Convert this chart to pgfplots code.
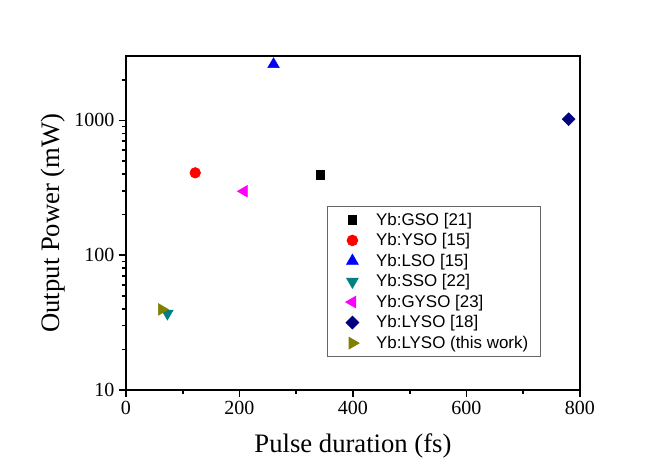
\documentclass[border=0pt]{standalone}
\usepackage{pgfplots}
\pgfplotsset{compat=1.18}
\usepackage{fontspec}
\setmainfont{Liberation Serif}
\newfontfamily\legendfont{Liberation Sans}
\definecolor{cteal}{RGB}{0,128,128}
\definecolor{cnavy}{RGB}{0,0,128}
\definecolor{colive}{RGB}{128,128,0}
\definecolor{cmag}{RGB}{255,0,255}
\begin{document}
\begin{tikzpicture}[x=0.75pt,y=0.75pt]
\useasboundingbox (-126,-68) rectangle (531,390);
\begin{axis}[
  at={(0,0)}, anchor=south west,
  scale only axis, width=340.5pt, height=250.5pt,
  xmin=0, xmax=800, ymode=log, ymin=10, ymax=3000,
  xtick={0,200,400,600,800}, minor x tick num=1,
  ytick={10,100,1000}, yticklabels={10,100,1000},
  minor ytick={20,30,40,50,60,70,80,90,200,300,400,500,600,700,800,900,2000},
  axis line style={line width=1.2pt},
  every tick/.style={line width=1.2pt, black},
  major tick length=5.25pt, minor tick length=3pt,
  tick align=outside, tick pos=left,
  ticklabel style={font=\fontsize{15}{15}\selectfont},
  /pgf/number format/assume math mode=true,
  xlabel={Pulse duration (fs)}, ylabel={Output Power (mW)},
  label style={font=\fontsize{20}{20}\selectfont},
  xlabel style={at={(axis description cs:0.5,-0.168)}, anchor=center},
  ylabel style={at={(axis description cs:-0.161,0.5)}, anchor=center},
  legend style={at={(axis description cs:0.443,0.551)}, anchor=north west,
    draw=black!60, line width=0.6pt, inner xsep=7pt, inner ysep=3pt,
    font=\legendfont\fontsize{12.7}{14}\selectfont, row sep=1.1pt,
    nodes={inner sep=1.8pt}, cells={anchor=west}},
  legend image code/.code={\path (0cm,0cm) (0.95cm,0cm);
    \draw[mark repeat=2,mark phase=2,#1] plot coordinates {(0cm,0cm)(0.4cm,0cm)(0.8cm,0cm)};},
]
\addplot[only marks, mark=square*, black, mark size=3.2pt] coordinates {(342,396)};
\addlegendentry{Yb:GSO [21]}
\addplot[only marks, mark=*, red, mark size=4pt] coordinates {(122,408)};
\addlegendentry{Yb:YSO [15]}
\addplot[only marks, mark=triangle*, blue, mark size=5pt] coordinates {(260,2600)};
\addlegendentry{Yb:LSO [15]}
\addplot[only marks, mark=triangle*, cteal, mark size=5pt, mark options={rotate=180}] coordinates {(73,37)};
\addlegendentry{Yb:SSO [22]}
\addplot[only marks, mark=triangle*, cmag, mark size=5pt, mark options={rotate=90}] coordinates {(208,298)};
\addlegendentry{Yb:GYSO [23]}
\addplot[only marks, mark=square*, cnavy, mark size=3.4pt, mark options={rotate=45}] coordinates {(780,1020)};
\addlegendentry{Yb:LYSO [18]}
\addplot[only marks, mark=triangle*, colive, mark size=5pt, mark options={rotate=-90}] coordinates {(63,39.6)};
\addlegendentry{Yb:LYSO (this work)}
\end{axis}
\end{tikzpicture}
\end{document}
